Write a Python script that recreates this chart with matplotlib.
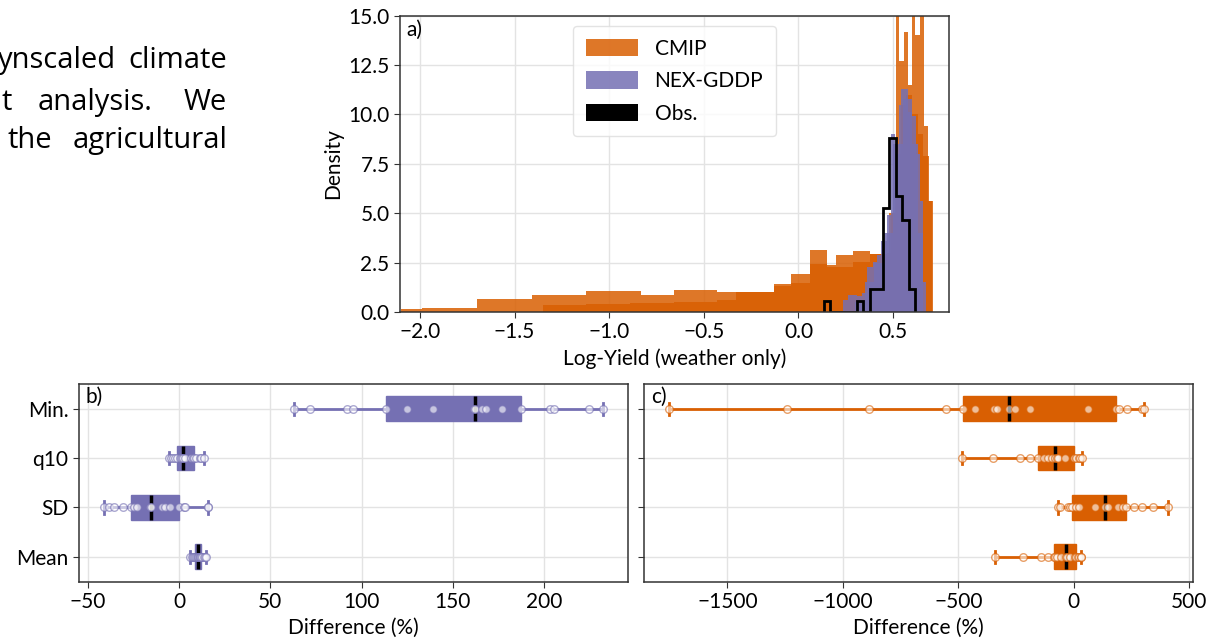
import numpy as np
import matplotlib.pyplot as plt
from matplotlib.patches import Patch

plt.rcParams['font.family'] = ['Lato', 'DejaVu Sans']

orange = '#d95f02'
purple = '#7570b3'

# --- panel a: histogram layers (bin edges + density) ---
cmip_edges_1 = [-2.10, -1.99, -1.70, -1.41, -1.12, -0.83, -0.66, -0.43, -0.13, -0.04, 0.06, 0.15, 0.20, 0.29, 0.38, 0.47]
cmip_dens_1 = [0.15, 0.20, 0.67, 0.87, 1.08, 0.88, 1.13, 1.00, 1.43, 1.90, 3.15, 2.40, 2.90, 3.10, 2.95]
cmip_edges_2 = [-1.35, -1.12, -0.89, -0.66, -0.43, -0.33, -0.13, -0.04, 0.06, 0.15, 0.20, 0.29, 0.38, 0.47]
cmip_dens_2 = [0.37, 0.42, 0.48, 0.50, 0.62, 1.00, 1.30, 1.45, 2.45, 2.30, 2.30, 2.55, 2.95]
cmip_edges_3 = [0.47, 0.49, 0.514, 0.532, 0.556, 0.579, 0.597, 0.616, 0.641, 0.664, 0.685, 0.706]
cmip_dens_3 = [3.0, 5.0, 16.0, 12.7, 14.2, 11.5, 16.0, 14.0, 16.0, 9.4, 5.6]
cmip_edges_4 = [0.45, 0.48, 0.51, 0.54, 0.57, 0.60, 0.63, 0.66, 0.69, 0.71]
cmip_dens_4 = [2.8, 5.0, 8.0, 10.5, 11.0, 10.0, 9.0, 7.9, 5.6]

nex_edges_1 = [0.236, 0.262, 0.311, 0.333, 0.362, 0.394, 0.415, 0.438, 0.468, 0.491, 0.509,
               0.532, 0.544, 0.579, 0.597, 0.623, 0.641, 0.659, 0.671]
nex_dens_1 = [0.6, 0.85, 0.8, 0.95, 2.3, 2.55, 2.9, 3.6, 4.9, 9.0, 8.0, 10.5, 11.3, 10.1, 9.9, 8.0, 5.6, 1.5]
nex_edges_2 = [0.30, 0.35, 0.40, 0.45, 0.50, 0.55, 0.60, 0.63, 0.66]
nex_dens_2 = [0.5, 1.5, 2.5, 4.0, 8.5, 10.8, 8.5, 4.0]

obs_edges = [0.134, 0.169, 0.203, 0.238, 0.272, 0.307, 0.341, 0.376, 0.410, 0.445, 0.479, 0.514, 0.548, 0.583, 0.617]
obs_dens = [0.55, 0, 0, 0, 0, 0.55, 0, 1.16, 1.16, 5.26, 8.8, 5.85, 4.67, 1.16]

# --- panels b, c: differences (%) per statistic ---
rows = ['Min.', 'q10', 'SD', 'Mean']
nex_min = [63.0, 71.6, 91.9, 95.2, 113.4, 124.9, 139.0, 161.5, 162.0, 166.3, 168.5, 176.9, 187.2, 203.3, 205.5, 224.7, 232.4]
nex_q10 = [-5.5, -4.6, -3.3, -2.0, -1.1, 0.3, 1.2, 1.8, 2.2, 3.1, 6.4, 7.6, 8.4, 9.5, 11.2, 12.1, 13.9]
nex_sd = [-41.2, -38.5, -35.9, -30.8, -26.2, -25.0, -23.1, -16.1, -15.4, -9.5, -7.7, -5.1, 0.0, 2.6, 3.5, 15.6, 16.1]
nex_mean = [5.9, 6.8, 7.5, 8.0, 8.6, 9.2, 9.8, 10.2, 10.6, 10.9, 11.3, 11.7, 12.1, 12.8, 13.5, 14.2, 14.8]

cmip_min = [-1752, -1240, -888, -555, -478, -429, -347, -333, -282, -256, -189, 61, 181, 197, 232, 293, 304]
cmip_q10 = [-483, -352, -235, -189, -155, -131, -112, -95, -83, -75, -69, -40, 0, 8, 21, 28, 35]
cmip_sd = [-69, -61, -24, -15, -8, 8, 21, 93, 133, 150, 192, 213, 224, 259, 293, 344, 408]
cmip_mean = [-341, -221, -144, -112, -88, -80, -72, -56, -35, -28, -15, 5, 11, 16, 24, 29, 32]

W, H = 1210, 638
fig = plt.figure(figsize=(W / 100, H / 100), dpi=100)


def px_axes(left, top, right, bottom):
    return fig.add_axes([left / W, 1 - bottom / H, (right - left) / W, (bottom - top) / H])


def style(ax):
    ax.grid(True, color='#e3e3e3', lw=1)
    ax.set_axisbelow(True)
    for s in ax.spines.values():
        s.set_color('#333333')
        s.set_linewidth(1.1)
    ax.tick_params(labelsize=15, length=4, color='#333333')


# intro text cut from page
tx = dict(fontsize=21, family='Open Sans', color='black', va='baseline')
fig.text(-2 / W, 1 - 68 / H, 'ynscaled', ha='left', **tx)
fig.text(227 / W, 1 - 68 / H, 'climate', ha='right', **tx)
fig.text(2 / W, 1 - 110 / H, 't', ha='left', **tx)
fig.text(38 / W, 1 - 110 / H, 'analysis.', ha='left', **tx)
fig.text(227 / W, 1 - 110 / H, 'We', ha='right', **tx)
fig.text(7 / W, 1 - 148 / H, 'the', ha='left', **tx)
fig.text(227 / W, 1 - 148 / H, 'agricultural', ha='right', **tx)

# a) histograms
ax_a = px_axes(400, 15.7, 949, 312)
style(ax_a)
for e, d in [(cmip_edges_1, cmip_dens_1), (cmip_edges_2, cmip_dens_2),
             (cmip_edges_4, cmip_dens_4), (cmip_edges_3, cmip_dens_3)]:
    ax_a.stairs(d, e, fill=True, color=orange, alpha=0.85, lw=0)
for e, d in [(nex_edges_1, nex_dens_1), (nex_edges_2, nex_dens_2)]:
    ax_a.stairs(d, e, fill=True, color=purple, alpha=0.85, lw=0)
ax_a.stairs(obs_dens, obs_edges, color='black', lw=2)
ax_a.set_xlim(-2.105, 0.795)
ax_a.set_ylim(0, 15)
ax_a.set_yticks([0, 2.5, 5, 7.5, 10, 12.5, 15])
ax_a.set_xlabel('Log-Yield (weather only)', fontsize=15)
ax_a.set_ylabel('Density', fontsize=15)
ax_a.text(0.012, 0.985, 'a)', transform=ax_a.transAxes, va='top', ha='left', fontsize=15)
handles = [Patch(facecolor=orange, alpha=0.85), Patch(facecolor=purple, alpha=0.85), Patch(facecolor='black')]
ax_a.legend(handles, ['CMIP', 'NEX-GDDP', 'Obs.'], loc='upper center', fontsize=15,
            handlelength=2.5, handleheight=0.9, labelspacing=0.6, borderpad=0.6,
            framealpha=0.8, edgecolor='#dddddd')


def draw_boxes(ax, data, color):
    pos = np.arange(len(data))
    ax.boxplot(data, positions=pos, orientation='horizontal', whis=(0, 100), widths=0.5,
               patch_artist=True, showfliers=False, capwidths=0.25,
               boxprops=dict(facecolor=color, edgecolor=color, linewidth=1),
               whiskerprops=dict(color=color, linewidth=2),
               capprops=dict(color=color, linewidth=2),
               medianprops=dict(color='black', linewidth=2.5))
    for i, d in enumerate(data):
        ax.scatter(d, np.full(len(d), pos[i]), s=30, facecolor='white', edgecolor=color,
                   linewidth=1, alpha=0.6, zorder=4)
    ax.set_yticks(pos, rows)
    ax.set_ylim(3.5, -0.5)


ax_b = px_axes(79, 384, 628, 581.5)
style(ax_b)
draw_boxes(ax_b, [nex_min, nex_q10, nex_sd, nex_mean], purple)
ax_b.set_xlabel('Difference (%)', fontsize=15)
ax_b.text(0.012, 0.985, 'b)', transform=ax_b.transAxes, va='top', ha='left', fontsize=15)

ax_c = px_axes(644.3, 384, 1193, 581.5)
style(ax_c)
draw_boxes(ax_c, [cmip_min, cmip_q10, cmip_sd, cmip_mean], orange)
ax_c.tick_params(labelleft=False)
ax_c.set_xticks([-1500, -1000, -500, 0, 500])
ax_c.set_xlabel('Difference (%)', fontsize=15)
ax_c.text(0.012, 0.985, 'c)', transform=ax_c.transAxes, va='top', ha='left', fontsize=15)

fig.savefig('out.png', dpi=100)
